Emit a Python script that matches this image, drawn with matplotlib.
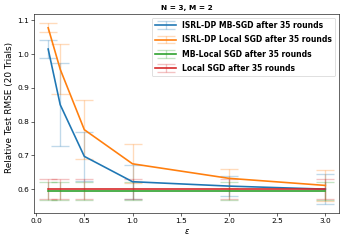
import matplotlib
matplotlib.use("Agg")
import matplotlib.pyplot as plt
from matplotlib.colors import to_rgba

eps = [0.125, 0.25, 0.5, 1.0, 2.0, 3.0]

isrl_mb = [1.015, 0.850, 0.697, 0.622, 0.609, 0.600]
isrl_mb_err = [0.026, 0.123, 0.072, 0.050, 0.030, 0.044]

isrl_local = [1.078, 0.955, 0.776, 0.675, 0.632, 0.611]
isrl_local_err = [0.014, 0.074, 0.087, 0.058, 0.028, 0.045]

mb_local = [0.594] * 6
mb_local_err = [0.026] * 6

local_sgd = [0.601] * 6
local_sgd_err = [0.030] * 6

labels = ["ISRL-DP MB-SGD after 35 rounds",
          "ISRL-DP Local SGD after 35 rounds",
          "MB-Local SGD after 35 rounds",
          "Local SGD after 35 rounds"]
colors = ["#1f77b4", "#ff7f0e", "#2ca02c", "#d62728"]

DPI = 53.6
fig = plt.figure(figsize=(343 / DPI, 241 / DPI), dpi=DPI)
ax = fig.add_axes([0.100, 0.116, 0.889, 0.826])

series = [(isrl_mb, isrl_mb_err), (isrl_local, isrl_local_err),
          (mb_local, mb_local_err), (local_sgd, local_sgd_err)]
for (y, e), lab, c in zip(series, labels, colors):
    ax.errorbar(eps, y, yerr=e, color=c, ecolor=to_rgba(c, 0.28),
                capsize=12, lw=2.2, elinewidth=1.8, capthick=1.8, label=lab)

ax.set_title("N = 3, M = 2", fontsize=10, fontweight='bold')
ax.set_xlabel(r"$\epsilon$", fontsize=11)
ax.set_ylabel("Relative Test RMSE (20 Trials)", fontsize=12)
ax.yaxis.set_label_coords(-0.068, 0.53)
ax.set_xticks([0.0, 0.5, 1.0, 1.5, 2.0, 2.5, 3.0])
ax.set_yticks([0.6, 0.7, 0.8, 0.9, 1.0, 1.1])
ax.tick_params(labelsize=10)
ax.legend(loc='upper right', handlelength=2.8, labelspacing=0.7,
          prop={'weight': 'bold', 'size': 10.3})

fig.savefig("out.png", dpi=DPI)
